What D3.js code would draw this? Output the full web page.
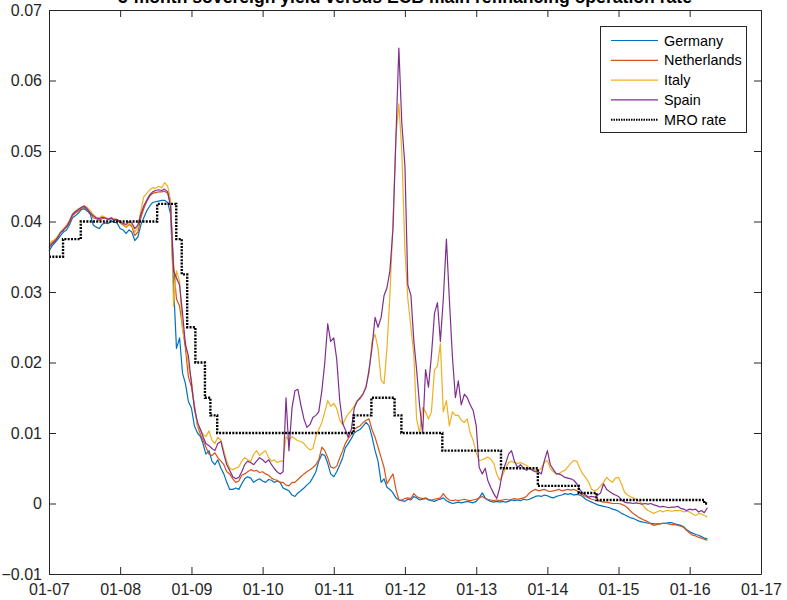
<!DOCTYPE html>
<html><head><meta charset="utf-8">
<script src="https://cdn.jsdelivr.net/npm/d3@7"></script>
<style>body{margin:0;background:#fff}svg{display:block}</style>
</head><body><svg id="chart" width="787" height="600"></svg>
<script>
// ---- data (yields in percent, semi-monthly observations from 2007-01-01 to 2016-04-01) ----
const seriesNames = ["Germany", "Netherlands", "Italy", "Spain"];
const seriesColors = ["#0072BD", "#D95319", "#EDB120", "#7E2F8E"];

const germany = [
  3.58,3.65,3.70,3.75,3.80,3.85,3.88,3.95,4.05,4.08,4.12,4.17,4.18,4.15,4.10,3.95,3.92,3.90,3.96,3.98,3.97,4.01,3.99,3.98,
  3.90,3.88,3.83,3.88,3.85,3.73,3.78,3.95,4.05,4.15,4.22,4.27,4.28,4.29,4.30,4.30,4.27,4.10,3.10,2.20,2.35,1.85,1.70,1.45,
  1.35,1.10,1.00,0.95,0.85,0.70,0.75,0.60,0.55,0.62,0.50,0.42,0.30,0.20,0.20,0.22,0.20,0.28,0.35,0.38,0.36,0.30,0.33,0.35,
  0.32,0.30,0.34,0.33,0.30,0.32,0.30,0.22,0.20,0.18,0.12,0.10,0.15,0.18,0.22,0.26,0.30,0.37,0.45,0.60,0.70,0.68,0.57,0.42,
  0.38,0.45,0.55,0.65,0.79,0.85,0.92,1.00,1.03,1.05,1.10,1.15,1.10,0.95,0.75,0.60,0.30,0.35,0.23,0.20,0.15,0.08,0.05,0.04,
  0.03,0.06,0.05,0.10,0.08,0.05,0.06,0.07,0.05,0.04,0.03,0.05,0.06,0.08,0.04,0.02,0.00,0.01,0.02,0.01,0.02,0.03,0.02,0.01,
  0.03,0.08,0.15,0.08,0.05,0.03,0.02,0.03,0.02,0.03,0.02,0.03,0.05,0.04,0.05,0.04,0.06,0.05,0.06,0.08,0.10,0.11,0.10,0.12,
  0.11,0.09,0.08,0.10,0.11,0.12,0.14,0.13,0.14,0.12,0.13,0.12,0.10,0.06,0.04,0.02,0.00,-0.02,-0.03,-0.04,-0.05,-0.06,-0.08,-0.09,
  -0.11,-0.14,-0.16,-0.18,-0.20,-0.21,-0.23,-0.25,-0.26,-0.27,-0.28,-0.28,-0.29,-0.29,-0.29,-0.28,-0.28,-0.27,-0.27,-0.29,-0.30,-0.31,-0.33,-0.37,
  -0.40,-0.42,-0.44,-0.45,-0.47,-0.49,-0.50
];
const netherlands = [
  3.66,3.70,3.74,3.78,3.85,3.88,3.92,3.98,4.08,4.12,4.15,4.18,4.20,4.17,4.12,4.05,4.04,4.02,4.04,4.05,4.03,4.04,4.03,4.02,
  3.98,3.95,3.92,3.96,3.93,3.80,3.85,4.05,4.18,4.28,4.36,4.40,4.41,4.42,4.42,4.43,4.40,4.25,3.40,2.90,2.80,2.50,2.20,1.80,
  1.65,1.40,1.10,0.98,0.90,0.80,0.70,0.68,0.72,0.65,0.60,0.55,0.45,0.42,0.35,0.30,0.32,0.40,0.42,0.45,0.48,0.46,0.47,0.44,
  0.45,0.42,0.40,0.36,0.34,0.33,0.30,0.30,0.26,0.25,0.30,0.30,0.34,0.38,0.42,0.45,0.48,0.51,0.55,0.62,0.80,0.75,0.65,0.52,
  0.50,0.53,0.65,0.75,0.85,0.92,0.98,1.05,1.08,1.10,1.15,1.18,1.20,1.05,0.94,0.80,0.65,0.51,0.28,0.35,0.42,0.20,0.05,0.05,
  0.07,0.08,0.07,0.14,0.10,0.08,0.07,0.08,0.06,0.05,0.06,0.07,0.08,0.14,0.08,0.05,0.04,0.05,0.04,0.05,0.06,0.05,0.04,0.05,
  0.06,0.08,0.10,0.07,0.06,0.05,0.04,0.05,0.04,0.05,0.06,0.05,0.06,0.07,0.06,0.07,0.08,0.10,0.15,0.18,0.20,0.18,0.19,0.20,
  0.18,0.17,0.18,0.19,0.20,0.18,0.19,0.20,0.19,0.20,0.18,0.15,0.12,0.10,0.08,0.06,0.05,0.04,0.03,0.02,0.02,0.01,0.00,0.00,
  0.00,-0.01,-0.03,-0.06,-0.10,-0.14,-0.17,-0.20,-0.22,-0.24,-0.26,-0.29,-0.31,-0.30,-0.29,-0.28,-0.28,-0.29,-0.30,-0.30,-0.31,-0.32,-0.34,-0.38,
  -0.42,-0.45,-0.46,-0.48,-0.49,-0.51,-0.52
];
const italy = [
  3.68,3.72,3.75,3.80,3.85,3.90,3.95,4.02,4.10,4.15,4.18,4.20,4.22,4.20,4.15,4.10,4.06,4.05,4.08,4.06,4.04,4.06,4.04,4.03,
  4.00,3.96,3.93,3.97,3.95,3.85,3.92,4.15,4.35,4.40,4.45,4.48,4.47,4.50,4.48,4.55,4.50,4.30,2.80,3.30,3.15,2.45,2.30,1.95,
  1.75,1.35,1.10,1.05,0.98,0.95,1.03,0.90,0.85,0.94,0.90,0.75,0.60,0.50,0.48,0.50,0.52,0.60,0.65,0.62,0.60,0.70,0.75,0.68,
  0.72,0.75,0.65,0.60,0.62,0.58,0.60,0.60,0.95,0.90,0.95,0.92,0.89,0.88,0.85,0.80,0.76,0.78,0.95,1.05,1.15,1.30,1.46,1.38,
  1.42,1.35,1.18,1.12,1.20,1.27,1.32,1.38,1.46,1.48,1.55,1.68,1.85,2.30,2.40,2.20,1.75,1.70,2.20,2.95,4.00,5.20,5.67,5.00,
  3.60,2.90,2.50,2.10,1.20,1.00,1.36,1.30,1.20,1.30,1.90,1.95,2.27,1.30,1.46,1.10,1.30,1.25,1.25,1.18,1.15,1.20,1.00,0.90,
  0.72,0.61,0.62,0.64,0.66,0.63,0.57,0.42,0.33,0.40,0.50,0.58,0.60,0.58,0.57,0.58,0.56,0.54,0.50,0.48,0.47,0.47,0.50,0.58,
  0.61,0.50,0.45,0.42,0.42,0.45,0.47,0.52,0.57,0.61,0.60,0.50,0.42,0.37,0.30,0.20,0.18,0.20,0.25,0.30,0.37,0.33,0.30,0.36,
  0.37,0.28,0.16,0.12,0.10,0.08,0.06,0.03,0.00,-0.06,-0.10,-0.12,-0.14,-0.12,-0.10,-0.12,-0.10,-0.10,-0.11,-0.10,-0.10,-0.10,-0.12,-0.11,
  -0.12,-0.15,-0.17,-0.14,-0.15,-0.17,-0.19
];
const spain = [
  3.63,3.68,3.72,3.78,3.84,3.88,3.93,4.00,4.10,4.14,4.17,4.20,4.22,4.18,4.12,4.08,4.05,4.04,4.06,4.05,4.03,4.05,4.02,4.03,
  4.00,3.97,3.96,4.00,3.98,3.90,3.95,4.10,4.22,4.30,4.38,4.42,4.44,4.45,4.44,4.46,4.42,4.20,3.30,3.20,3.10,2.70,2.25,2.10,
  1.70,1.35,1.15,1.05,0.95,0.85,0.82,0.78,0.75,0.85,0.88,0.70,0.55,0.47,0.38,0.35,0.37,0.45,0.55,0.60,0.58,0.55,0.60,0.65,
  0.62,0.58,0.62,0.55,0.50,0.45,0.42,0.45,1.50,0.75,1.36,1.60,1.62,1.40,1.20,1.08,1.12,1.22,1.25,1.30,1.60,2.00,2.55,2.30,
  2.35,2.05,1.45,1.13,1.05,0.94,1.05,1.35,1.45,1.50,1.56,1.65,1.90,2.20,2.64,2.50,2.64,2.95,3.06,3.30,3.90,5.20,6.46,5.40,
  4.80,3.10,2.95,2.30,1.90,1.40,1.00,1.90,1.65,2.10,2.70,2.85,2.30,2.90,3.75,2.90,2.07,1.50,1.74,1.40,1.55,1.50,1.40,1.32,
  1.10,0.51,0.42,0.50,0.33,0.23,0.14,0.07,0.22,0.45,0.57,0.70,0.75,0.60,0.51,0.55,0.50,0.47,0.50,0.47,0.45,0.45,0.42,0.60,
  0.75,0.55,0.48,0.42,0.42,0.40,0.37,0.36,0.35,0.33,0.28,0.20,0.15,0.12,0.09,0.10,0.09,0.12,0.15,0.28,0.20,0.17,0.14,0.12,
  0.10,0.05,0.02,0.01,0.01,0.00,0.01,0.00,-0.01,0.00,-0.01,0.00,-0.02,-0.03,-0.05,-0.04,-0.05,-0.06,-0.05,-0.05,-0.04,-0.07,-0.08,-0.10,
  -0.08,-0.09,-0.08,-0.12,-0.10,-0.13,-0.06
];

// ECB main refinancing operation rate (percent), change dates
const mroDates = ["2007-01-01","2007-03-14","2007-06-13","2008-07-09","2008-10-15","2008-11-12","2008-12-10",
  "2009-01-21","2009-03-11","2009-04-08","2009-05-13","2011-04-13","2011-07-13","2011-11-09","2011-12-14",
  "2012-07-11","2013-05-08","2013-11-13","2014-06-11","2014-09-10","2016-03-16","2016-04-01"];
const mroRates = [3.50,3.75,4.00,4.25,3.75,3.25,2.50,2.00,1.50,1.25,1.00,1.25,1.50,1.25,1.00,0.75,0.50,0.25,0.15,0.05,0.00,0.00];

const xTickYears = [2007,2008,2009,2010,2011,2012,2013,2014,2015,2016,2017];
const yTickValues = [-0.01,0,0.01,0.02,0.03,0.04,0.05,0.06,0.07];
const titleText = "3-month sovereign yield versus ECB main refinancing operation rate";
const legendLabels = ["Germany","Netherlands","Italy","Spain","MRO rate"];

// ---- observation dates: 1st and 16th of each month ----
const parse = d3.utcParse("%Y-%m-%d");
const months = d3.utcMonth.range(parse("2007-01-01"), parse("2016-04-02"));
const obsDates = months.flatMap(m => [m, d3.utcDay.offset(m, 15)]).slice(0, germany.length);

const seriesValues = [germany, netherlands, italy, spain];
const series = seriesNames.map((name, k) => ({
  name, color: seriesColors[k],
  points: seriesValues[k].map((v, i) => ({date: obsDates[i], value: v / 100}))
}));
const mro = mroDates.map((d, i) => ({date: parse(d), value: mroRates[i] / 100}));

// ---- layout ----
const L = 49, R = 761, T = 10, B = 574;
const svg = d3.select("#chart");
svg.append("rect").attr("width", 787).attr("height", 600).attr("fill", "#fff");
const font = "'Liberation Sans', Arial, Helvetica, sans-serif";
const axisColor = "#262626";

const x = d3.scaleUtc().domain([parse("2007-01-01"), parse("2017-01-01")]).range([L, R]);
const y = d3.scaleLinear().domain([-0.01, 0.07]).range([B, T]);

const xTicks = xTickYears.map(yr => new Date(Date.UTC(yr, 0, 1)));
const fmtX = d3.utcFormat("%m-%y");
const fmtY = d => d === 0 ? "0" : d3.format(".2f")(d);

// data lines
const line = d3.line().x(d => x(d.date)).y(d => y(d.value));
svg.append("g").selectAll("path").data(series).join("path")
  .attr("d", d => line(d.points))
  .attr("fill", "none").attr("stroke", d => d.color)
  .attr("stroke-width", 1.2).attr("stroke-linejoin", "round");

const stepLine = d3.line().x(d => x(d.date)).y(d => y(d.value)).curve(d3.curveStepAfter);
svg.append("path").attr("d", stepLine(mro))
  .attr("fill", "none").attr("stroke", "#000").attr("stroke-width", 2.4)
  .attr("stroke-dasharray", "2,1.3");

// axes
function styleAxis(g) {
  g.selectAll("path.domain").attr("stroke", axisColor).attr("stroke-width", 1);
  g.selectAll(".tick line").attr("stroke", axisColor).attr("stroke-width", 1);
  g.selectAll(".tick text").attr("fill", axisColor).style("font-family", font).style("font-size", "16px");
}
svg.append("g").attr("transform", `translate(0,${B})`)
  .call(d3.axisBottom(x).tickValues(xTicks).tickFormat(fmtX).tickSizeInner(-7).tickSizeOuter(0).tickPadding(10))
  .call(styleAxis);
svg.append("g").attr("transform", `translate(0,${T})`)
  .call(d3.axisTop(x).tickValues(xTicks).tickFormat("").tickSizeInner(-7).tickSizeOuter(0))
  .call(styleAxis);
svg.append("g").attr("transform", `translate(${L},0)`)
  .call(d3.axisLeft(y).tickValues(yTickValues).tickFormat(fmtY).tickSizeInner(-7).tickSizeOuter(0).tickPadding(7))
  .call(styleAxis);
svg.append("g").attr("transform", `translate(${R},0)`)
  .call(d3.axisRight(y).tickValues(yTickValues).tickFormat("").tickSizeInner(-7).tickSizeOuter(0))
  .call(styleAxis);

// title
svg.append("text").attr("x", (L + R) / 2).attr("y", 3).attr("text-anchor", "middle")
  .style("font-family", font).style("font-size", "17.6px").style("font-weight", "bold")
  .attr("fill", "#000").text(titleText);

// legend
const lg = svg.append("g");
lg.append("rect").attr("x", 600.5).attr("y", 26.5).attr("width", 146).attr("height", 106)
  .attr("fill", "#fff").attr("stroke", axisColor).attr("stroke-width", 1);
const legendItems = legendLabels.map((lab, i) => ({
  label: lab,
  color: i < 4 ? seriesColors[i] : "#000",
  dotted: i === 4
}));
const rows = lg.selectAll("g.row").data(legendItems).join("g")
  .attr("transform", (d, i) => `translate(0,${40.5 + i * 19.8})`);
rows.append("line").attr("x1", 611).attr("x2", 658).attr("y1", 0).attr("y2", 0)
  .attr("stroke", d => d.color).attr("stroke-width", d => d.dotted ? 2 : 1.2)
  .attr("stroke-dasharray", d => d.dotted ? "1.5,1" : null);
rows.append("text").attr("x", 664).attr("y", 0).attr("dy", "0.35em")
  .style("font-family", font).style("font-size", "14.4px").attr("fill", "#000")
  .text(d => d.label);
</script>
</body></html>
